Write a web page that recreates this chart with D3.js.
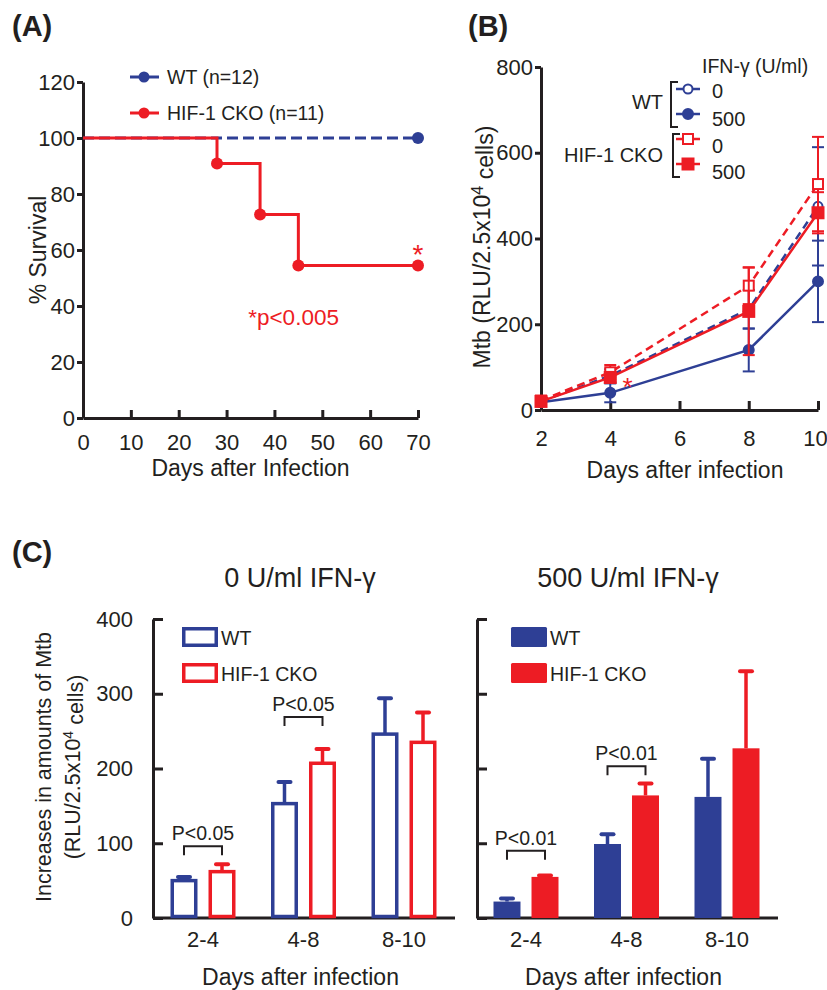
<!DOCTYPE html>
<html>
<head>
<meta charset="utf-8">
<script src="https://cdn.jsdelivr.net/npm/d3@7"></script>
<style>
body { margin: 0; background: #fff; }
svg text { font-family: "Liberation Sans", Arial, Helvetica, sans-serif; fill: #231f20; }
</style>
</head>
<body>
<svg id="fig" width="827" height="990"></svg>
<script>
// (A) survival
var survDaysWT = [0, 70];
var survWT = [100, 100];
var survDaysCKO = [0, 28, 37, 45, 70];
var survCKO = [100, 90.9, 72.7, 54.5, 54.5];
var survTicksX = [0, 10, 20, 30, 40, 50, 60, 70];
var survTicksY = [0, 20, 40, 60, 80, 100, 120];

// (B) growth curves
var growthDays = [2, 4, 8, 10];
var wt0 = [20, 80, 235, 475],   wt0Err = [5, 15, 45, 138];
var wt500 = [18, 40, 140, 300], wt500Err = [5, 22, 50, 95];
var cko0 = [22, 88, 290, 527],  cko0Err = [5, 17, 43, 110];
var cko500 = [20, 76, 230, 460], cko500Err = [5, 12, 102, 48];
var growthTicksX = [2, 4, 6, 8, 10];
var growthTicksY = [0, 200, 400, 600, 800];

// (C) increases
var intervals = ['2-4', '4-8', '8-10'];
var incWT0 = [50, 153, 246],    incWT0Err = [5, 29, 48];
var incCKO0 = [62, 207, 235],   incCKO0Err = [10, 19, 40];
var incWT500 = [22, 99, 162],   incWT500Err = [4, 13, 51];
var incCKO500 = [55, 164, 227], incCKO500Err = [2, 16, 103];
var incTicksY = [0, 100, 200, 300, 400];
var pText0 = ['P<0.05', 'P<0.05'], pLevel0 = [96, 269];
var pText500 = ['P<0.01', 'P<0.01'], pLevel500 = [90, 203];

var blue = '#2e3f95', red = '#ed1c24', ink = '#231f20';
var svg = d3.select('#fig');

function styleAxis(g, size) {
    g.attr('font-size', size).attr('font-family', null).style('color', ink);
    g.selectAll('.domain').attr('stroke-width', 3);
    g.selectAll('.tick line').attr('stroke-width', 3);
}

// panel letters
[['(A)', 12, 36], ['(B)', 468, 36], ['(C)', 12, 562]].forEach(function (d) {
    svg.append('text').attr('x', d[1]).attr('y', d[2]).attr('font-size', 29)
        .attr('font-weight', 'bold').text(d[0]);
});

// ---------- (A)
var xA = d3.scaleLinear().domain([0, 70]).range([83, 418]);
var yA = d3.scaleLinear().domain([0, 120]).range([418, 82]);
var gA = svg.append('g');

gA.append('g').attr('transform', 'translate(0,418)')
    .call(d3.axisBottom(xA).tickValues(survTicksX).tickSize(-8).tickSizeOuter(0).tickPadding(16))
    .call(styleAxis, 22);
gA.append('g').attr('transform', 'translate(83,0)')
    .call(d3.axisLeft(yA).tickValues(survTicksY).tickSize(6).tickSizeOuter(0).tickPadding(2))
    .call(styleAxis, 22);

gA.append('text').attr('x', xA(35)).attr('y', 468).attr('dy', '0.35em')
    .attr('text-anchor', 'middle').attr('font-size', 23).text('Days after Infection');
gA.append('text').attr('transform', 'translate(38,' + yA(60) + ') rotate(-90)')
    .attr('dy', '0.35em').attr('text-anchor', 'middle').attr('font-size', 23).text('% Survival');

var stepLine = d3.line().x(function (d) { return xA(d[0]); }).y(function (d) { return yA(d[1]); })
    .curve(d3.curveStepAfter);
gA.append('path').datum(d3.zip(survDaysWT, survWT)).attr('d', stepLine)
    .attr('fill', 'none').attr('stroke', blue).attr('stroke-width', 3).attr('stroke-dasharray', '11,5');
gA.append('path').datum(d3.zip(survDaysCKO, survCKO)).attr('d', stepLine)
    .attr('fill', 'none').attr('stroke', red).attr('stroke-width', 3);
gA.append('circle').attr('cx', xA(survDaysWT[1])).attr('cy', yA(survWT[1])).attr('r', 6).attr('fill', blue);
gA.selectAll('.ckoDot').data(d3.zip(survDaysCKO, survCKO).slice(1)).enter().append('circle')
    .attr('cx', function (d) { return xA(d[0]); }).attr('cy', function (d) { return yA(d[1]); })
    .attr('r', 6).attr('fill', red);

gA.append('text').attr('x', xA(70)).attr('y', yA(61)).attr('dy', '0.6em').attr('text-anchor', 'middle')
    .attr('font-size', 28).style('fill', red).text('*');
gA.append('text').attr('x', xA(44)).attr('y', yA(36)).attr('dy', '0.35em').attr('text-anchor', 'middle')
    .attr('font-size', 22.5).style('fill', red).text('*p<0.005');

// legend A
[[blue, 'WT (n=12)', 77], [red, 'HIF-1 CKO (n=11)', 113]].forEach(function (d) {
    gA.append('line').attr('x1', 130).attr('x2', 159).attr('y1', d[2]).attr('y2', d[2])
        .attr('stroke', d[0]).attr('stroke-width', 3);
    gA.append('circle').attr('cx', 144).attr('cy', d[2]).attr('r', 5.5).attr('fill', d[0]);
    gA.append('text').attr('x', 167).attr('y', d[2]).attr('dy', '0.35em').attr('font-size', 19.5).text(d[1]);
});

// ---------- (B)
var xB = d3.scaleLinear().domain([2, 10]).range([541, 818]);
var yB = d3.scaleLinear().domain([0, 800]).range([410, 67]);
var gB = svg.append('g');

gB.append('g').attr('transform', 'translate(0,410)')
    .call(d3.axisBottom(xB).tickValues(growthTicksX).tickSize(-9).tickSizeOuter(0).tickPadding(20))
    .call(styleAxis, 22)
    .selectAll('.tick text').attr('dx', function (d) { return d === 10 ? -3 : 0; });
gB.append('g').attr('transform', 'translate(541,0)')
    .call(d3.axisLeft(yB).tickValues(growthTicksY).tickSize(6).tickSizeOuter(0).tickPadding(2))
    .call(styleAxis, 22);

gB.append('text').attr('x', 685).attr('y', 470).attr('dy', '0.35em')
    .attr('text-anchor', 'middle').attr('font-size', 23).text('Days after infection');
var yTitleB = gB.append('text').attr('transform', 'translate(482,' + yB(380) + ') rotate(-90)')
    .attr('dy', '0.35em').attr('text-anchor', 'middle').attr('font-size', 23);
yTitleB.append('tspan').text('Mtb (RLU/2.5x10');
yTitleB.append('tspan').attr('dy', '-0.45em').attr('font-size', 16).text('4');
yTitleB.append('tspan').attr('dy', '0.45em').text(' cells)');

var series = [
    { v: wt0, e: wt0Err, c: blue, dash: '8,5', shape: 'circle', fill: false },
    { v: wt500, e: wt500Err, c: blue, dash: null, shape: 'circle', fill: true },
    { v: cko0, e: cko0Err, c: red, dash: '8,5', shape: 'square', fill: false },
    { v: cko500, e: cko500Err, c: red, dash: null, shape: 'square', fill: true }
];
var lineB = d3.line().x(function (d) { return xB(d[0]); }).y(function (d) { return yB(d[1]); });

function marker(g, s, cx, cy) {
    if (s.shape === 'circle') {
        g.append('circle').attr('cx', cx).attr('cy', cy).attr('r', s.fill ? 5 : 4.5)
            .attr('fill', s.fill ? s.c : '#fff').attr('stroke', s.c).attr('stroke-width', 2);
    } else {
        var w = s.fill ? 11 : 10;
        g.append('rect').attr('x', cx - w / 2).attr('y', cy - w / 2).attr('width', w).attr('height', w)
            .attr('fill', s.fill ? s.c : '#fff').attr('stroke', s.c).attr('stroke-width', 2);
    }
}

series.forEach(function (s) {
    var pts = d3.zip(growthDays, s.v, s.e);
    pts.forEach(function (p) {
        var x = xB(p[0]);
        gB.append('line').attr('x1', x).attr('x2', x).attr('y1', yB(p[1] - p[2])).attr('y2', yB(p[1] + p[2]))
            .attr('stroke', s.c).attr('stroke-width', 2);
        [p[1] - p[2], p[1] + p[2]].forEach(function (q) {
            gB.append('line').attr('x1', x - 6).attr('x2', x + 6).attr('y1', yB(q)).attr('y2', yB(q))
                .attr('stroke', s.c).attr('stroke-width', 2);
        });
    });
    gB.append('path').datum(pts).attr('d', lineB).attr('fill', 'none').attr('stroke', s.c)
        .attr('stroke-width', 2.5).attr('stroke-dasharray', s.dash);
    pts.forEach(function (p) { marker(gB, s, xB(p[0]), yB(p[1])); });
});

gB.append('text').attr('x', xB(4.5)).attr('y', yB(70)).attr('dy', '0.6em').attr('text-anchor', 'middle')
    .attr('font-size', 26).style('fill', red).text('*');

// legend B
gB.append('text').attr('x', 702).attr('y', 66).attr('dy', '0.35em').attr('font-size', 19.5).text('IFN-γ (U/ml)');
var legRows = [[series[0], '0', 89, 91], [series[1], '500', 114, 119], [series[2], '0', 139, 146], [series[3], '500', 164, 172]];
legRows.forEach(function (r) {
    var s = r[0];
    gB.append('line').attr('x1', 676).attr('x2', 700).attr('y1', r[2]).attr('y2', r[2])
        .attr('stroke', s.c).attr('stroke-width', 2.5);
    marker(gB, s, 688, r[2]);
    gB.append('text').attr('x', 712).attr('y', r[3]).attr('dy', '0.35em').attr('font-size', 20).text(r[1]);
});
gB.append('path').attr('d', 'M678,82H671V127H678').attr('fill', 'none').attr('stroke', ink).attr('stroke-width', 2);
gB.append('path').attr('d', 'M680,134H673V177H680').attr('fill', 'none').attr('stroke', ink).attr('stroke-width', 2);
gB.append('text').attr('x', 663).attr('y', 102).attr('dy', '0.35em').attr('text-anchor', 'end').attr('font-size', 20).text('WT');
gB.append('text').attr('x', 663).attr('y', 155).attr('dy', '0.35em').attr('text-anchor', 'end').attr('font-size', 20).text('HIF-1 CKO');

// ---------- (C)
var yC = d3.scaleLinear().domain([0, 400]).range([918, 619]);

function barPanel(o) {
    var g = svg.append('g');
    var xg = d3.scalePoint().domain(intervals).range(o.centers);
    var xs = d3.scaleBand().domain(['wt', 'cko']).range([-32.5, 32.5]).paddingInner(0.29);
    var bw = xs.bandwidth();

    g.append('g').attr('transform', 'translate(' + o.x0 + ',0)')
        .call(d3.axisLeft(yC).tickValues(incTicksY).tickSize(-10).tickSizeOuter(0).tickPadding(20)
            .tickFormat(o.labels ? d3.format('d') : ''))
        .call(styleAxis, 22);
    g.append('line').attr('x1', o.x0).attr('x2', o.x1).attr('y1', yC(0)).attr('y2', yC(0))
        .attr('stroke', ink).attr('stroke-width', 3);

    intervals.forEach(function (k, i) {
        g.append('text').attr('x', xg(k)).attr('y', 939).attr('dy', '0.35em').attr('text-anchor', 'middle')
            .attr('font-size', 22).text(k);
    });
    g.append('text').attr('x', xg(intervals[1]) - 3)
        .attr('y', 977).attr('dy', '0.35em').attr('text-anchor', 'middle').attr('font-size', 23)
        .text('Days after infection');
    g.append('text').attr('x', o.titleX).attr('y', 578).attr('dy', '0.35em').attr('text-anchor', 'middle')
        .attr('font-size', 27).text(o.title);

    [['wt', o.wt, o.wtErr, blue], ['cko', o.cko, o.ckoErr, red]].forEach(function (b) {
        intervals.forEach(function (k, i) {
            var cx = xg(k) + xs(b[0]) + bw / 2;
            g.append('line').attr('x1', cx).attr('x2', cx).attr('y1', yC(b[1][i])).attr('y2', yC(b[1][i] + b[2][i]))
                .attr('stroke', b[3]).attr('stroke-width', 3.5);
            g.append('line').attr('x1', cx - 6).attr('x2', cx + 6)
                .attr('y1', yC(b[1][i] + b[2][i])).attr('y2', yC(b[1][i] + b[2][i]))
                .attr('stroke', b[3]).attr('stroke-width', 4).attr('stroke-linecap', 'round');
            if (o.filled) {
                g.append('rect').attr('x', cx - bw / 2).attr('y', yC(b[1][i])).attr('width', bw)
                    .attr('height', yC(0) - yC(b[1][i])).attr('fill', b[3]);
            } else {
                g.append('rect').attr('x', cx - bw / 2 + 1.75).attr('y', yC(b[1][i]))
                    .attr('width', bw - 3.5).attr('height', yC(0) - yC(b[1][i]) - 1.5)
                    .attr('fill', '#fff').attr('stroke', b[3]).attr('stroke-width', 3.5);
            }
        });
    });

    o.pText.forEach(function (t, i) {
        var k = intervals[i];
        var xa = xg(k) + xs('wt') + bw / 2, xb = xg(k) + xs('cko') + bw / 2, yy = yC(o.pLevel[i]);
        g.append('path').attr('d', 'M' + xa + ',' + (yy + 9) + 'V' + yy + 'H' + xb + 'V' + (yy + 9))
            .attr('fill', 'none').attr('stroke', ink).attr('stroke-width', 2);
        g.append('text').attr('x', (xa + xb) / 2).attr('y', yy - 6).attr('text-anchor', 'middle')
            .attr('font-size', 19.5).text(t);
    });

    [['WT', blue, 637], ['HIF-1 CKO', red, 673]].forEach(function (l) {
        if (o.filled) {
            g.append('rect').attr('x', o.legX).attr('y', l[2] - 10).attr('width', 36).attr('height', 20)
                .attr('rx', 1.5).attr('fill', l[1]);
        } else {
            g.append('rect').attr('x', o.legX + 1.75).attr('y', l[2] - 8.25).attr('width', 32.5).attr('height', 16.5)
                .attr('fill', '#fff').attr('stroke', l[1]).attr('stroke-width', 3.5);
        }
        g.append('text').attr('x', o.legX + 39).attr('y', l[2]).attr('dy', '0.4em').attr('font-size', 19.5).text(l[0]);
    });
    return g;
}

barPanel({ x0: 153, x1: 455, centers: [203, 404], labels: true, filled: false, title: '0 U/ml IFN-γ', titleX: 300,
    wt: incWT0, wtErr: incWT0Err, cko: incCKO0, ckoErr: incCKO0Err, pText: pText0, pLevel: pLevel0, legX: 182 });
barPanel({ x0: 477, x1: 778, centers: [526, 727], labels: false, filled: true, title: '500 U/ml IFN-γ', titleX: 628,
    wt: incWT500, wtErr: incWT500Err, cko: incCKO500, ckoErr: incCKO500Err, pText: pText500, pLevel: pLevel500, legX: 511 });

// y title C (shared)
svg.append('text').attr('transform', 'translate(43,767) rotate(-90)').attr('dy', '0.35em')
    .attr('text-anchor', 'middle').attr('font-size', 21.5).text('Increases in amounts of Mtb');
var yt2 = svg.append('text').attr('transform', 'translate(72,767) rotate(-90)').attr('dy', '0.35em')
    .attr('text-anchor', 'middle').attr('font-size', 21.5);
yt2.append('tspan').text('(RLU/2.5x10');
yt2.append('tspan').attr('dy', '-0.45em').attr('font-size', 14).text('4');
yt2.append('tspan').attr('dy', '0.45em').text(' cells)');
</script>
</body>
</html>
